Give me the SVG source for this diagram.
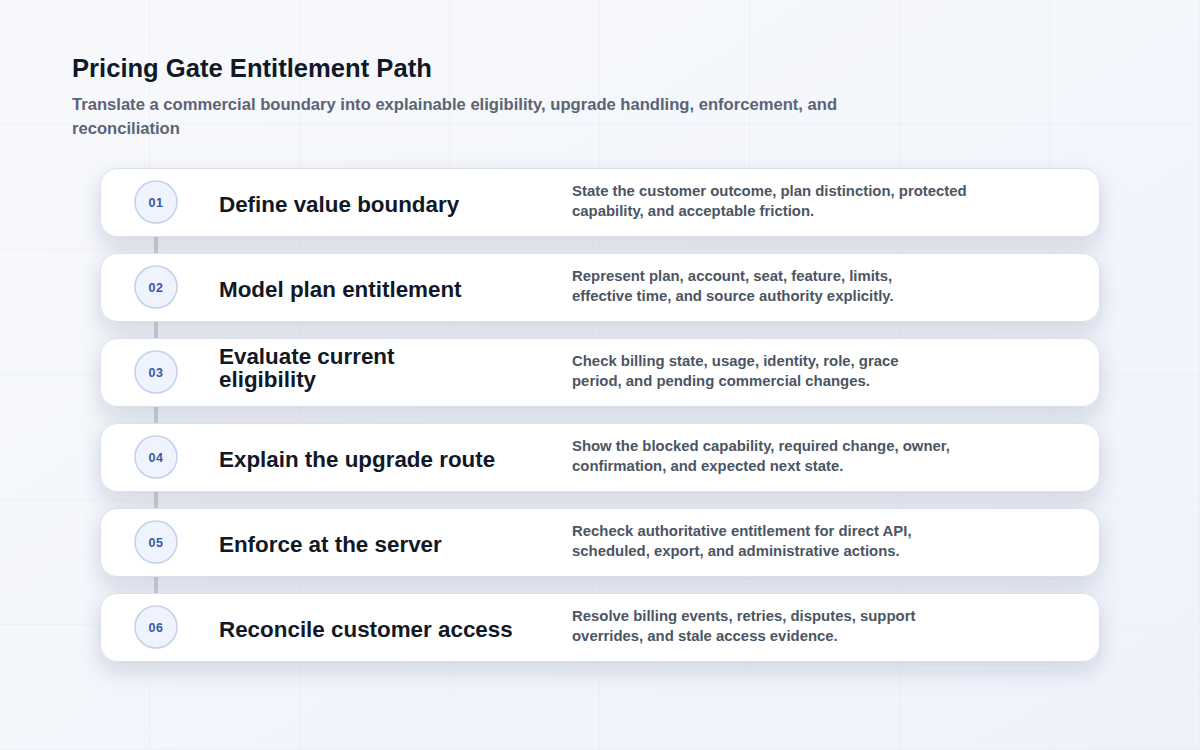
<svg xmlns="http://www.w3.org/2000/svg" width="1200" height="750" viewBox="0 0 1200 750">
  <defs>
    <pattern id="grid" width="150" height="125" patternUnits="userSpaceOnUse">
      <path d="M150 0V125M0 125H150" fill="none" stroke="#e6ebf3" stroke-width="1"/>
    </pattern>
    <linearGradient id="bg" x1="0" y1="0" x2="1" y2="1">
      <stop offset="0" stop-color="#f8f9fc"/>
      <stop offset="1" stop-color="#eef3fb"/>
    </linearGradient>
    <filter id="shadow" x="-10%" y="-50%" width="120%" height="220%">
      <feDropShadow dx="0" dy="8" stdDeviation="9" flood-color="#26355c" flood-opacity="0.13"/>
    </filter>
    <filter id="panelBlur" x="-10%" y="-10%" width="120%" height="120%">
      <feGaussianBlur stdDeviation="14"/>
    </filter>
  </defs>
  <style>
    .title { font-family: "Liberation Sans", Arial, sans-serif; font-weight: 700; font-size: 25.6px; fill: #111827; }
    .subtitle { font-family: "Liberation Sans", Arial, sans-serif; font-weight: 700; font-size: 16.6px; fill: #5b6475; }
    .card { fill: #ffffff; stroke: #dbe1ec; stroke-width: 1; }
    .badge { fill: #eef3fd; stroke: #c3d1ea; stroke-width: 1.5; }
    .num { font-family: "Liberation Sans", Arial, sans-serif; font-weight: 700; font-size: 12.5px; fill: #3a57a0; letter-spacing: 0.6px; }
    .head { font-family: "Liberation Sans", Arial, sans-serif; font-weight: 700; font-size: 22.4px; fill: #111827; }
    .desc { font-family: "Liberation Sans", Arial, sans-serif; font-weight: 700; font-size: 14.9px; fill: #4b5563; }
    .conn { stroke: #c8ccd5; stroke-width: 4; fill: none; }
  </style>

  <rect width="1200" height="750" fill="url(#bg)"/>
  <rect width="1200" height="750" fill="url(#grid)"/>
  <rect x="100" y="175" width="1000" height="505" rx="16" fill="#dfe4ee" opacity="0.35" filter="url(#panelBlur)"/>

  <text class="title" x="72" y="77">Pricing Gate Entitlement Path</text>
  <text class="subtitle" x="72" y="110">Translate a commercial boundary into explainable eligibility, upgrade handling, enforcement, and</text>
  <text class="subtitle" x="72" y="134">reconciliation</text>

  <g id="connectors">
    <line class="conn" x1="156" y1="236" x2="156" y2="254"/>
    <line class="conn" x1="156" y1="321" x2="156" y2="339"/>
    <line class="conn" x1="156" y1="406" x2="156" y2="424"/>
    <line class="conn" x1="156" y1="491" x2="156" y2="509"/>
    <line class="conn" x1="156" y1="576" x2="156" y2="594"/>
  </g>

  <g id="step-01">
    <rect class="card" x="100.5" y="168.5" width="999" height="68" rx="17" filter="url(#shadow)"/>
    <circle class="badge" cx="156" cy="202" r="21"/>
    <text class="num" x="156" y="206.5" text-anchor="middle">01</text>
    <text class="head" x="219" y="212">Define value boundary</text>
    <text class="desc" x="572" y="196">State the customer outcome, plan distinction, protected</text>
    <text class="desc" x="572" y="216">capability, and acceptable friction.</text>
  </g>

  <g id="step-02">
    <rect class="card" x="100.5" y="253.5" width="999" height="68" rx="17" filter="url(#shadow)"/>
    <circle class="badge" cx="156" cy="287" r="21"/>
    <text class="num" x="156" y="291.5" text-anchor="middle">02</text>
    <text class="head" x="219" y="297">Model plan entitlement</text>
    <text class="desc" x="572" y="281">Represent plan, account, seat, feature, limits,</text>
    <text class="desc" x="572" y="301">effective time, and source authority explicitly.</text>
  </g>

  <g id="step-03">
    <rect class="card" x="100.5" y="338.5" width="999" height="68" rx="17" filter="url(#shadow)"/>
    <circle class="badge" cx="156" cy="372" r="21"/>
    <text class="num" x="156" y="376.5" text-anchor="middle">03</text>
    <text class="head" x="219" y="364">Evaluate current</text>
    <text class="head" x="219" y="387">eligibility</text>
    <text class="desc" x="572" y="366">Check billing state, usage, identity, role, grace</text>
    <text class="desc" x="572" y="386">period, and pending commercial changes.</text>
  </g>

  <g id="step-04">
    <rect class="card" x="100.5" y="423.5" width="999" height="68" rx="17" filter="url(#shadow)"/>
    <circle class="badge" cx="156" cy="457" r="21"/>
    <text class="num" x="156" y="461.5" text-anchor="middle">04</text>
    <text class="head" x="219" y="467">Explain the upgrade route</text>
    <text class="desc" x="572" y="451">Show the blocked capability, required change, owner,</text>
    <text class="desc" x="572" y="471">confirmation, and expected next state.</text>
  </g>

  <g id="step-05">
    <rect class="card" x="100.5" y="508.5" width="999" height="68" rx="17" filter="url(#shadow)"/>
    <circle class="badge" cx="156" cy="542" r="21"/>
    <text class="num" x="156" y="546.5" text-anchor="middle">05</text>
    <text class="head" x="219" y="552">Enforce at the server</text>
    <text class="desc" x="572" y="536">Recheck authoritative entitlement for direct API,</text>
    <text class="desc" x="572" y="556">scheduled, export, and administrative actions.</text>
  </g>

  <g id="step-06">
    <rect class="card" x="100.5" y="593.5" width="999" height="68" rx="17" filter="url(#shadow)"/>
    <circle class="badge" cx="156" cy="627" r="21"/>
    <text class="num" x="156" y="631.5" text-anchor="middle">06</text>
    <text class="head" x="219" y="637">Reconcile customer access</text>
    <text class="desc" x="572" y="621">Resolve billing events, retries, disputes, support</text>
    <text class="desc" x="572" y="641">overrides, and stale access evidence.</text>
  </g>
</svg>
